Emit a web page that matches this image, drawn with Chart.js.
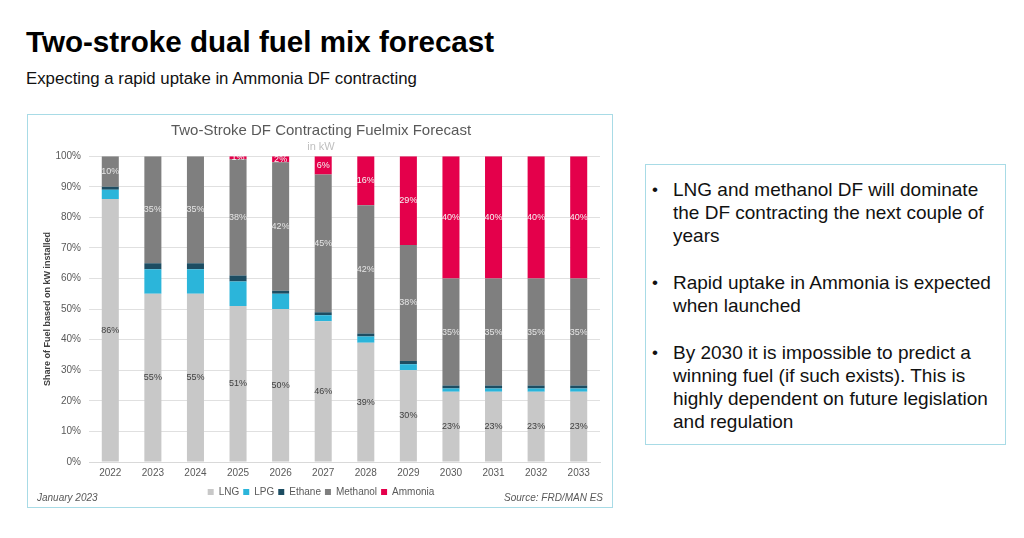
<!DOCTYPE html>
<html>
<head>
<meta charset="utf-8">
<script src="https://cdn.jsdelivr.net/npm/chart.js@4/dist/chart.umd.min.js"></script>
<style>
  body { margin: 0; width: 1024px; height: 538px; background: #fff; font-family: "Liberation Sans", Arial, sans-serif; position: relative; overflow: hidden; }
  #title { position: absolute; left: 26px; top: 25px; font-size: 29.6px; font-weight: bold; color: #000; white-space: nowrap; }
  #subtitle { position: absolute; left: 26px; top: 69px; font-size: 16.8px; color: #111; white-space: nowrap; }
  #chartBox { position: absolute; left: 27px; top: 114px; width: 584px; height: 392px; border: 1px solid #a8dbe6; }
  #chartBox canvas { position: absolute; left: 0; top: 0; }
  .note { position: absolute; top: 377px; font-size: 10px; font-style: italic; color: #595959; }
  #notes { position: absolute; left: 645px; top: 164px; width: 361px; height: 281px; border: 1px solid #a8dbe6; box-sizing: border-box; }
  #notes ul { margin: 0; padding: 13px 0 0 27px; list-style: none; }
  #notes li { position: relative; font-size: 19px; line-height: 23px; color: #111; margin-bottom: 24px; white-space: nowrap; }
  #notes li::before { content: "\2022"; position: absolute; left: -21px; font-size: 17px; }
</style>
</head>
<body>
<div id="title">Two-stroke dual fuel mix forecast</div>
<div id="subtitle">Expecting a rapid uptake in Ammonia DF contracting</div>

<div id="chartBox">
  <canvas id="fuelChart"></canvas>
  <div class="note" style="left:9px;">January 2023</div>
  <div class="note" style="right:9px;">Source: FRD/MAN ES</div>
</div>

<div id="notes">
  <ul>
    <li>LNG and methanol DF will dominate<br>the DF contracting the next couple of<br>years</li>
    <li>Rapid uptake in Ammonia is expected<br>when launched</li>
    <li>By 2030 it is impossible to predict a<br>winning fuel (if such exists). This is<br>highly dependent on future legislation<br>and regulation</li>
  </ul>
</div>

<script>
// values in % of kW installed
const years = ['2022', '2023', '2024', '2025', '2026', '2027', '2028', '2029', '2030', '2031', '2032', '2033'];
const lng = [86, 55, 55, 51, 50, 46, 39, 30, 23, 23, 23, 23];
const lpg = [3, 8, 8, 8, 5, 2, 2, 2, 1, 1, 1, 1];
const ethane = [1, 2, 2, 2, 1, 1, 1, 1, 1, 1, 1, 1];
const methanol = [10, 35, 35, 38, 42, 45, 42, 38, 35, 35, 35, 35];
const ammonia = [0, 0, 0, 1, 2, 6, 16, 29, 40, 40, 40, 40];
const yTicks = [0, 10, 20, 30, 40, 50, 60, 70, 80, 90, 100];

document.addEventListener('DOMContentLoaded', function () {

  // draws the % labels in the middle of the LNG, Methanol and Ammonia segments
  const barLabels = {
    id: 'barLabels',
    afterDatasetsDraw(chart) {
      const ctx = chart.ctx;
      ctx.save();
      ctx.font = '9px "Liberation Sans", Arial, sans-serif';
      ctx.textAlign = 'center';
      ctx.textBaseline = 'middle';
      chart.data.datasets.forEach(function (ds, i) {
        if (!ds.labelColor) return;
        chart.getDatasetMeta(i).data.forEach(function (bar, j) {
          const v = ds.data[j];
          if (!v) return;
          ctx.fillStyle = ds.labelColor;
          ctx.fillText(v + '%', bar.x, (bar.y + bar.base) / 2);
        });
      });
      ctx.restore();
    }
  };

  const fuelData = {
    labels: years,
    datasets: [
      { label: 'LNG', data: lng, backgroundColor: '#c8c8c8', labelColor: '#404040' },
      { label: 'LPG', data: lpg, backgroundColor: '#2bb5da' },
      { label: 'Ethane', data: ethane, backgroundColor: '#1d4d62' },
      { label: 'Methanol', data: methanol, backgroundColor: '#7f7f7f', labelColor: '#e6e6e6' },
      { label: 'Ammonia', data: ammonia, backgroundColor: '#e4004b', labelColor: '#f4f4f4' }
    ]
  };

  const fuelChartConfig = {
    type: 'bar',
    data: fuelData,
    options: {
      responsive: true,
      maintainAspectRatio: false,
      animation: false,
      datasets: {
        bar: { barPercentage: 0.4, categoryPercentage: 1.0 }
      },
      layout: {
        padding: { left: 14, right: 12, top: 2, bottom: 0 }
      },
      scales: {
        x: {
          stacked: true,
          afterFit: function (scale) { scale.height = 21; },
          grid: { display: false, drawTicks: false },
          border: { color: '#d9d9d9' },
          ticks: { color: '#595959', font: { size: 10 }, padding: 5 }
        },
        y: {
          stacked: true,
          min: 0,
          max: 100,
          afterBuildTicks: function (scale) {
            scale.ticks = yTicks.map(function (v) { return { value: v }; });
          },
          afterFit: function (scale) { scale.width = 47; },
          grid: { color: '#e0e0e0', drawTicks: false },
          border: { display: false },
          ticks: {
            color: '#595959',
            font: { size: 10 },
            padding: 8,
            callback: function (v) { return v + '%'; }
          },
          title: {
            display: true,
            text: 'Share of Fuel based on kW installed',
            color: '#404040',
            font: { size: 9, weight: 'bold' },
            padding: 0
          }
        }
      },
      plugins: {
        title: {
          display: true,
          text: 'Two-Stroke DF Contracting Fuelmix Forecast',
          color: '#595959',
          font: { size: 15, weight: 'normal' },
          padding: { top: 5, bottom: 0 }
        },
        subtitle: {
          display: true,
          text: 'in kW',
          color: '#bfbfbf',
          font: { size: 11 },
          padding: { top: 0, bottom: 3 }
        },
        legend: {
          display: true,
          position: 'bottom',
          labels: {
            color: '#595959',
            font: { size: 10 },
            boxWidth: 6,
            boxHeight: 6,
            padding: 4
          }
        },
        tooltip: { enabled: false }
      }
    },
    plugins: [barLabels]
  };

  const fuelChart = new Chart(
    document.getElementById('fuelChart'),
    fuelChartConfig
  );
});
</script>
</body>
</html>
